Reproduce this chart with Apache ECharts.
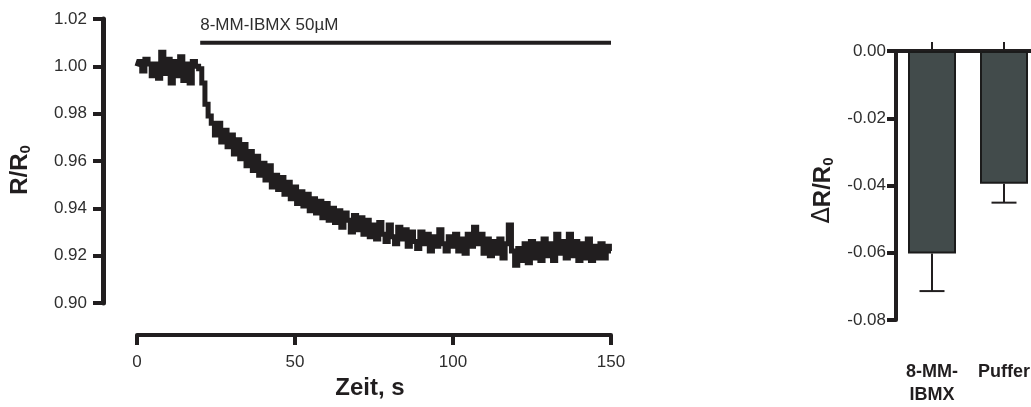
<!DOCTYPE html>
<html>
<head>
<meta charset="utf-8">
<script src="https://cdn.jsdelivr.net/npm/echarts@6/dist/echarts.min.js"></script>
<style>
  html, body { margin: 0; padding: 0; background: #fff; overflow: hidden; }
  #chart { width: 1045px; height: 407px; }
</style>
</head>
<body>
<div id="chart"></div>
<script>
// R/R0 trace, one value per second, 0..150 s
const ratio = [
  1.000, 1.002, 0.998, 1.003, 1.001, 0.996, 1.001, 0.995, 1.006, 0.997,
  1.003, 0.993, 1.002, 0.996, 1.004, 0.994, 1.001, 0.993, 1.002, 1.000,
  0.999, 0.993, 0.984, 0.979, 0.976, 0.971, 0.976, 0.968, 0.973, 0.966,
  0.971, 0.963, 0.969, 0.961, 0.967, 0.958, 0.964, 0.956, 0.962, 0.954,
  0.959, 0.952, 0.958, 0.949, 0.954, 0.948, 0.953, 0.946, 0.951, 0.944,
  0.949, 0.942, 0.947, 0.941, 0.946, 0.939, 0.944, 0.938, 0.943, 0.936,
  0.942, 0.935, 0.940, 0.934, 0.939, 0.932, 0.938, 0.935, 0.930, 0.937,
  0.931, 0.936, 0.929, 0.935, 0.928, 0.933, 0.927, 0.934, 0.929, 0.926,
  0.933, 0.928, 0.925, 0.932, 0.927, 0.931, 0.924, 0.930, 0.926, 0.923,
  0.930, 0.925, 0.929, 0.922, 0.928, 0.924, 0.931, 0.925, 0.922, 0.928,
  0.924, 0.929, 0.922, 0.927, 0.921, 0.929, 0.924, 0.932, 0.925, 0.929,
  0.921, 0.927, 0.920, 0.926, 0.921, 0.927, 0.919, 0.925, 0.933, 0.922,
  0.916, 0.923, 0.918, 0.925, 0.917, 0.926, 0.919, 0.925, 0.918, 0.927,
  0.920, 0.925, 0.918, 0.929, 0.921, 0.926, 0.919, 0.929, 0.920, 0.926,
  0.918, 0.925, 0.919, 0.927, 0.918, 0.924, 0.919, 0.925, 0.919, 0.924,
  0.922
]
// application bar: from 20 s to 150 s
const applyStart = 20
const applyEnd = 150
const applyLevel = 1.01
const applyText = '8-MM-IBMX 50µM'

// bar chart
const groups = ['8-MM-IBMX', 'Puffer']
const deltaMean = [-0.0602, -0.0395]
const deltaErr = [0.0112, 0.0056]

const ink = '#211e1f'
const txt = '#2e2e2e'
const font = '"Liberation Sans", Arial, Helvetica, sans-serif'

const chart = echarts.init(document.getElementById('chart'))

const traceData = ratio.map((v, i) => [i, v])

const option = {
  animation: false,
  textStyle: { fontFamily: font },
  grid: [
    { left: 137, top: 19, width: 474, height: 284 },
    { left: 896, top: 51, width: 144, height: 277 }
  ],
  xAxis: [
    {
      gridIndex: 0,
      type: 'value',
      min: 0,
      max: 150,
      interval: 50,
      offset: 32,
      name: 'Zeit, s',
      nameLocation: 'middle',
      nameGap: 30,
      nameTextStyle: { fontSize: 24, fontWeight: 'bold', color: ink, fontFamily: font, padding: [0, 0, 0, -8] },
      axisLine: { show: true, onZero: false, lineStyle: { color: ink, width: 4 } },
      axisTick: { show: true, length: 10, lineStyle: { color: ink, width: 4 } },
      axisLabel: { fontSize: 17, color: txt, margin: 19, fontFamily: font },
      splitLine: { show: false }
    },
    {
      gridIndex: 1,
      type: 'category',
      position: 'top',
      data: groups,
      axisLine: { show: true, onZero: false, lineStyle: { color: ink, width: 4 } },
      axisTick: { show: true, interval: 0, alignWithLabel: true, length: 9, lineStyle: { color: ink, width: 2 } },
      axisLabel: { show: false }
    },
    {
      gridIndex: 1,
      type: 'category',
      position: 'bottom',
      data: groups,
      axisLine: { show: false, onZero: false },
      axisTick: { show: false },
      axisLabel: {
        interval: 0,
        margin: 41,
        fontSize: 18,
        fontWeight: 'bold',
        lineHeight: 23,
        color: ink,
        fontFamily: font,
        verticalAlign: 'top',
        formatter: function (v) {
          return v.replace('MM-', 'MM-\n')
        }
      }
    }
  ],
  yAxis: [
    {
      gridIndex: 0,
      type: 'value',
      min: 0.9,
      max: 1.02,
      interval: 0.02,
      offset: 34,
      name: '{m|R/R}{s|0}',
      nameLocation: 'middle',
      nameGap: 70,
      nameTextStyle: {
        padding: [0, 18, 0, 0],
        rich: {
          m: { fontSize: 24, fontWeight: 'bold', color: ink, fontFamily: font, lineHeight: 26 },
          s: { fontSize: 15, fontWeight: 'bold', color: ink, fontFamily: font, verticalAlign: 'bottom', lineHeight: 15 }
        }
      },
      axisLine: { show: true, onZero: false, lineStyle: { color: ink, width: 5 } },
      axisTick: { show: true, length: 10, lineStyle: { color: ink, width: 4 } },
      axisLabel: {
        fontSize: 17,
        color: txt,
        margin: 16,
        fontFamily: font,
        formatter: function (v) {
          return v.toFixed(2)
        }
      },
      splitLine: { show: false }
    },
    {
      gridIndex: 1,
      type: 'value',
      min: -0.08,
      max: 0,
      interval: 0.02,
      name: '{d|Δ}{m|R/R}{s|0}',
      nameLocation: 'middle',
      nameGap: 60,
      nameTextStyle: {
        padding: [0, 10, 0, 0],
        rich: {
          d: { fontSize: 24, color: ink, fontFamily: '"DejaVu Sans", sans-serif', lineHeight: 26 },
          m: { fontSize: 24, fontWeight: 'bold', color: ink, fontFamily: font, lineHeight: 26 },
          s: { fontSize: 15, fontWeight: 'bold', color: ink, fontFamily: font, verticalAlign: 'bottom', lineHeight: 15 }
        }
      },
      axisLine: { show: true, onZero: false, lineStyle: { color: ink, width: 4 } },
      axisTick: { show: true, length: 9, lineStyle: { color: ink, width: 4 } },
      axisLabel: {
        fontSize: 17,
        color: txt,
        margin: 10,
        fontFamily: font,
        formatter: function (v) {
          return v.toFixed(2)
        }
      },
      splitLine: { show: false }
    }
  ],
  series: [
    {
      name: 'R/R0',
      type: 'line',
      xAxisIndex: 0,
      yAxisIndex: 0,
      symbol: 'none',
      step: 'middle',
      lineStyle: { color: ink, width: 5, join: 'miter' },
      data: traceData
    },
    {
      name: 'application',
      type: 'line',
      xAxisIndex: 0,
      yAxisIndex: 0,
      symbol: 'circle',
      symbolSize: 0,
      showSymbol: true,
      lineStyle: { color: ink, width: 4 },
      data: [
        {
          value: [applyStart, applyLevel],
          label: {
            show: true,
            formatter: applyText,
            position: [0, -9],
            align: 'left',
            verticalAlign: 'bottom',
            fontSize: 17,
            color: txt,
            fontFamily: font
          }
        },
        [applyEnd, applyLevel]
      ]
    },
    {
      name: 'delta',
      type: 'bar',
      xAxisIndex: 1,
      yAxisIndex: 1,
      barWidth: 48,
      itemStyle: { color: '#424b4b', borderColor: '#1b1b1b', borderWidth: 2 },
      data: deltaMean
    },
    {
      name: 'sem',
      type: 'custom',
      xAxisIndex: 1,
      yAxisIndex: 1,
      data: groups.map((g, i) => [i, deltaMean[i], deltaErr[i]]),
      renderItem: function (params, api) {
        const x = api.value(0)
        const m = api.value(1)
        const e = api.value(2)
        const p0 = api.coord([x, m])
        const p1 = api.coord([x, m - e])
        const half = 12.5
        return {
          type: 'group',
          children: [
            {
              type: 'line',
              shape: { x1: p0[0], y1: p0[1], x2: p1[0], y2: p1[1] },
              style: { stroke: ink, lineWidth: 2 }
            },
            {
              type: 'line',
              shape: { x1: p1[0] - half, y1: p1[1], x2: p1[0] + half, y2: p1[1] },
              style: { stroke: ink, lineWidth: 2 }
            }
          ]
        }
      }
    }
  ]
}

chart.setOption(option)
</script>
</body>
</html>
